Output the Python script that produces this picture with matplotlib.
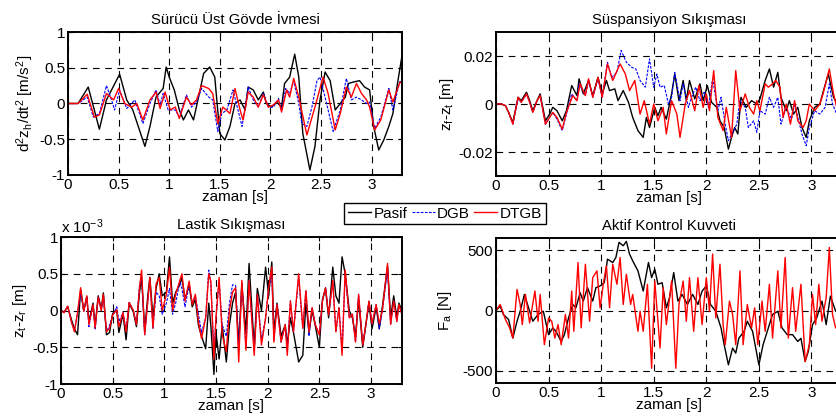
import numpy as np
import matplotlib
matplotlib.use('Agg')
import matplotlib.pyplot as plt
from matplotlib.lines import Line2D

plt.rcParams['font.family'] = ['Liberation Sans', 'DejaVu Sans']
plt.rcParams['font.size'] = 10
plt.rcParams['mathtext.fontset'] = 'custom'
plt.rcParams['mathtext.rm'] = 'Liberation Sans'
plt.rcParams['mathtext.it'] = 'Liberation Sans'
plt.rcParams['mathtext.bf'] = 'Liberation Sans'

series_names = ['Pasif', 'DGB', 'DTGB']
series_colors = ['black', 'blue', 'red']
x_ticks = [0, 0.5, 1, 1.5, 2, 2.5, 3]
x_ticklabels = ['0', '0.5', '1', '1.5', '2', '2.5', '3']

# ---- Sürücü Üst Gövde İvmesi (t [s], m/s^2)
acc_pasif = [(0,0),(0.10,0),(0.20,0.23),(0.31,-0.36),(0.38,0.05),(0.51,0.41),(0.58,0.05),(0.64,-0.09),(0.76,-0.60),(0.81,-0.32),
             (0.87,0.09),(0.94,0.21),(0.97,0.51),(1.00,0.37),(1.05,0.19),(1.10,-0.09),(1.14,-0.23),(1.19,-0.09),(1.24,-0.23),(1.29,0.09),
             (1.34,0.42),(1.40,0.51),(1.45,0.37),(1.50,-0.42),(1.55,-0.51),(1.60,-0.32),(1.65,0),(1.70,0.05),(1.75,-0.09),(1.78,0.23),
             (1.83,0.19),(1.88,0.05),(1.93,0.16),(1.96,0),(2.01,-0.05),(2.06,0.02),(2.11,-0.05),(2.14,0.28),(2.19,0.37),(2.24,0.69),
             (2.28,0.37),(2.32,-0.42),(2.39,-0.93),(2.44,-0.6),(2.49,0.05),(2.54,0.44),(2.59,0.32),(2.64,-0.09),(2.69,0),(2.74,0.09),
             (2.77,0.28),(2.82,0.3),(2.88,0.32),(2.93,0.23),(2.98,0.19),(3.02,-0.32),(3.07,-0.65),(3.12,-0.51),(3.17,-0.32),(3.21,-0.14),
             (3.26,0.32),(3.30,0.67)]
acc_dgb = [(0,0),(0.10,0),(0.19,0.09),(0.25,-0.19),(0.31,-0.14),(0.38,0.25),(0.43,0.05),(0.46,-0.09),(0.51,0.19),(0.58,-0.07),
           (0.66,0.05),(0.74,-0.28),(0.81,0),(0.87,0.19),(0.91,-0.02),(0.94,0.14),(0.99,-0.09),(1.06,-0.09),(1.10,-0.19),(1.17,0.12),
           (1.22,-0.05),(1.27,0.02),(1.32,0.21),(1.39,0.09),(1.43,0.05),(1.48,-0.39),(1.52,-0.14),(1.57,-0.09),(1.63,0.19),(1.72,-0.32),
           (1.78,0.23),(1.83,0.05),(1.88,-0.05),(1.93,0.14),(1.98,-0.05),(2.03,-0.05),(2.08,0.07),(2.11,-0.09),(2.15,0.21),(2.19,0.14),
           (2.23,0.32),(2.28,0),(2.31,-0.28),(2.36,-0.32),(2.41,-0.05),(2.46,0.32),(2.49,0.37),(2.54,0.09),(2.62,-0.39),(2.69,-0.09),
           (2.75,0.35),(2.80,0.05),(2.85,0.09),(2.90,0.05),(2.95,0),(2.98,0.02),(3.03,-0.35),(3.09,-0.19),(3.17,0.21),(3.21,-0.09),
           (3.28,0.32),(3.30,0.28)]
acc_dtgb = [(0,0),(0.10,0),(0.19,0.13),(0.26,-0.19),(0.31,-0.16),(0.38,0.14),(0.45,0.05),(0.50,0.21),(0.56,0),(0.63,-0.05),
            (0.68,0),(0.74,-0.23),(0.81,0.05),(0.87,0.16),(0.91,-0.07),(0.96,0.16),(1.01,-0.09),(1.06,-0.05),(1.10,-0.21),(1.17,0.09),
            (1.22,-0.02),(1.27,0.05),(1.32,0.25),(1.39,0.21),(1.43,0.14),(1.48,-0.28),(1.53,-0.05),(1.60,-0.14),(1.65,0.21),(1.70,-0.09),
            (1.73,-0.23),(1.78,0.16),(1.83,0.09),(1.88,-0.05),(1.93,0.12),(1.98,-0.05),(2.03,-0.02),(2.08,0.05),(2.11,-0.12),(2.16,0.19),
            (2.19,0.09),(2.23,0.35),(2.28,0.09),(2.36,-0.44),(2.44,-0.05),(2.52,0.37),(2.57,0.14),(2.64,-0.37),(2.69,-0.14),(2.75,0.23),
            (2.80,0.09),(2.85,0.28),(2.90,0.14),(2.95,0.05),(2.98,-0.05),(3.03,-0.37),(3.09,-0.23),(3.17,0.19),(3.21,0.02),(3.28,0.30),
            (3.30,0.28)]

# ---- Süspansiyon Sıkışması (t [s], mm)
susp_pasif = [(0,0),(0.05,0),(0.09,-0.7),(0.12,-3.5),(0.16,-7.7),(0.21,2.8),(0.24,1.4),(0.29,4.9),(0.32,1.4),(0.35,-2.8),
              (0.39,1.4),(0.42,4.2),(0.47,-7),(0.51,-4.2),(0.54,-1.4),(0.58,-2.8),(0.63,-7),(0.67,-2.8),(0.72,7.7),(0.77,3.5),
              (0.79,10.5),(0.83,4.2),(0.88,9.8),(0.92,3.5),(0.97,11.1),(1.01,4.2),(1.05,9.8),(1.08,5.6),(1.13,6.3),(1.16,1.4),
              (1.21,5.6),(1.26,0.7),(1.30,-5.6),(1.35,-11.1),(1.40,-13.9),(1.43,-5.6),(1.46,-9.8),(1.51,-1.4),(1.54,-4.9),(1.57,-1.4),
              (1.62,-6.3),(1.67,4.2),(1.70,12.5),(1.74,1.4),(1.78,9.8),(1.81,1.4),(1.84,9.8),(1.89,2.1),(1.94,8.4),(1.97,1.4),
              (2.01,7.7),(2.05,0.7),(2.10,-1.4),(2.13,-7),(2.17,-9.8),(2.21,-18.8),(2.24,-13.9),(2.27,-9.8),(2.30,-12.5),(2.33,2.8),
              (2.38,-1.4),(2.43,1.4),(2.48,0),(2.51,2.1),(2.56,9.8),(2.60,14.6),(2.64,7),(2.68,13.2),(2.71,2.8),(2.76,-2.8),
              (2.79,1.4),(2.83,-4.2),(2.87,-1.4),(2.91,-9.8),(2.95,-13.9),(2.98,-7),(3.03,-1.4),(3.08,0),(3.11,4.9),(3.16,12.5),
              (3.21,2.8),(3.25,0),(3.30,1.0)]
susp_dgb = [(0,0),(0.05,0),(0.09,-0.7),(0.12,-3.5),(0.16,-8.4),(0.21,2.1),(0.24,0.7),(0.29,4.2),(0.32,0.7),(0.35,-3.5),
            (0.39,1.4),(0.42,3.5),(0.47,-8.4),(0.51,-5.6),(0.54,-3.5),(0.58,-6.3),(0.63,-11.1),(0.67,-4.2),(0.72,4.2),(0.77,1.4),
            (0.79,8.4),(0.85,3.5),(0.88,9.8),(0.92,2.8),(0.97,10.5),(1.01,2.8),(1.06,17.4),(1.10,11.1),(1.15,13.2),(1.19,22.3),
            (1.24,17.4),(1.29,15.3),(1.33,14.6),(1.37,9.8),(1.42,7),(1.46,18.8),(1.50,7),(1.53,12.5),(1.56,7),(1.60,7.7),
            (1.64,0),(1.67,2.8),(1.70,13.2),(1.75,1.4),(1.78,8.4),(1.83,-1.4),(1.86,2.8),(1.90,7),(1.94,1.4),(1.98,4.9),
            (2.02,-1.4),(2.06,10.5),(2.11,-2.8),(2.14,2.8),(2.18,-8.4),(2.21,-15.3),(2.26,-11.1),(2.29,-8.4),(2.32,1.4),(2.37,-1.4),
            (2.40,-9.8),(2.45,-7),(2.48,-11.8),(2.51,-2.8),(2.56,-4.2),(2.60,2.8),(2.64,-1.4),(2.68,2.8),(2.71,-8.4),(2.76,-1.4),
            (2.81,-6.3),(2.84,0),(2.87,-5.6),(2.91,-12.5),(2.95,-17.4),(2.98,-9.8),(3.03,-2.8),(3.08,-4.2),(3.13,-1.4),(3.17,8.4),
            (3.20,0),(3.24,-4.2),(3.30,-1.4)]
susp_dtgb = [(0,0),(0.05,0),(0.09,-0.7),(0.12,-3.5),(0.16,-8.4),(0.21,2.8),(0.24,0.7),(0.29,4.2),(0.32,0.7),(0.35,-3.5),
             (0.39,1.4),(0.42,3.5),(0.47,-8.4),(0.51,-5.6),(0.54,-3.5),(0.58,-5.6),(0.63,-10.5),(0.67,-3.5),(0.73,3.5),(0.77,1.4),
             (0.80,8.4),(0.85,3.5),(0.88,10.5),(0.92,2.8),(0.97,11.1),(1.01,2.8),(1.06,16.7),(1.11,9.8),(1.18,16.7),(1.23,12.5),
             (1.27,5.6),(1.32,9.8),(1.37,-4.2),(1.41,1.4),(1.46,-8.4),(1.50,0),(1.54,-7),(1.59,-1.4),(1.62,-12.5),(1.67,1.4),
             (1.72,-4.2),(1.75,-13.9),(1.80,0),(1.84,5.6),(1.89,-2.8),(1.93,7.7),(1.97,-1.4),(2.00,4.2),(2.03,-2.8),(2.07,13.9),
             (2.11,-5.6),(2.16,-11.1),(2.19,-1.4),(2.24,-13.9),(2.28,13.9),(2.32,-2.8),(2.37,4.2),(2.41,-1.4),(2.45,-4.2),(2.48,1.4),
             (2.51,-2.8),(2.56,8.4),(2.59,7),(2.63,8.4),(2.66,9.8),(2.70,7),(2.73,-5.6),(2.76,0),(2.80,-8.4),(2.84,1.4),
             (2.87,-7),(2.92,-9.8),(2.95,-7),(2.98,0),(3.03,-2.8),(3.08,0),(3.11,4.2),(3.17,14.6),(3.21,4.2),(3.24,-1.4),
             (3.30,1.4)]

# ---- Lastik Sıkışması (t [s], x 1e-3 m)
tire_pasif = [(0,0),(0.03,-0.02),(0.065,0.05),(0.10,-0.12),(0.13,-0.25),(0.16,-0.33),(0.19,0.28),(0.22,0.0),(0.25,0.18),(0.27,-0.15),
              (0.31,0.10),(0.33,-0.22),(0.36,0.2),(0.39,0.02),(0.41,0.24),(0.44,-0.33),(0.47,-0.3),(0.50,-0.04),(0.54,0.0),(0.56,-0.30),
              (0.60,-0.05),(0.63,-0.40),(0.66,0.10),(0.70,-0.02),(0.73,-0.22),(0.76,0.25),(0.78,0.45),(0.81,-0.28),(0.84,0.2),(0.86,0.45),
              (0.89,-0.1),(0.92,0.3),(0.95,0.50),(0.98,0.2),(1.02,0.25),(1.05,0.73),(1.08,0.1),(1.11,0.25),(1.15,0.35),(1.17,0.45),
              (1.20,0.15),(1.24,0.35),(1.27,0.05),(1.30,0.15),(1.33,-0.2),(1.36,-0.35),(1.40,-0.52),(1.43,0.1),(1.45,-0.2),(1.48,-0.87),
              (1.50,-0.3),(1.53,-0.66),(1.56,-0.2),(1.60,-0.70),(1.63,-0.2),(1.66,0.1),(1.69,0.25),(1.72,-0.45),(1.75,0.35),(1.79,-0.3),
              (1.82,0.64),(1.87,-0.5),(1.90,0.3),(1.94,0.0),(1.98,0.59),(2.01,0.2),(2.04,0.66),(2.06,-0.3),(2.09,0.1),(2.13,-0.35),
              (2.17,-0.2),(2.19,-0.47),(2.22,-0.1),(2.25,-0.3),(2.30,-0.70),(2.34,-0.61),(2.37,0.1),(2.40,-0.3),(2.43,0.0),(2.46,-0.2),
              (2.50,-0.5),(2.53,0.15),(2.56,0.3),(2.59,-0.1),(2.63,0.59),(2.66,0.2),(2.69,0.1),(2.72,0.73),(2.75,0.5),(2.79,0.0),
              (2.82,-0.1),(2.85,-0.35),(2.88,0.15),(2.92,-0.50),(2.95,-0.2),(2.98,0.1),(3.01,-0.25),(3.05,0.05),(3.08,-0.25),(3.11,0.05),
              (3.16,0.6),(3.19,-0.1),(3.22,0.2),(3.25,-0.1),(3.27,0.1),(3.30,0.0)]
tire_dgb = [(0,0),(0.03,-0.03),(0.065,0.06),(0.10,-0.15),(0.13,-0.27),(0.16,-0.03),(0.19,0.25),(0.22,-0.01),(0.25,0.20),(0.27,-0.22),
            (0.31,0.08),(0.33,-0.26),(0.36,0.18),(0.39,0.0),(0.41,0.20),(0.44,-0.29),(0.47,-0.2),(0.50,-0.06),(0.54,0.05),(0.56,-0.15),
            (0.60,-0.03),(0.63,-0.27),(0.66,0.11),(0.70,0.0),(0.73,-0.19),(0.76,0.35),(0.78,0.45),(0.81,-0.33),(0.84,0.13),(0.86,0.40),
            (0.89,-0.24),(0.92,0.25),(0.95,0.2),(0.98,-0.05),(1.02,0.1),(1.05,0.3),(1.08,-0.05),(1.11,0.1),(1.15,0.4),(1.17,0.3),
            (1.20,0.05),(1.24,0.35),(1.27,0.1),(1.30,0.2),(1.33,-0.05),(1.36,-0.3),(1.40,-0.1),(1.43,0.55),(1.45,0.35),(1.48,-0.55),
            (1.50,-0.1),(1.53,0.4),(1.56,-0.2),(1.60,-0.35),(1.63,0.1),(1.66,0.35),(1.69,0.34),(1.72,-0.5),(1.75,0.38),(1.79,-0.5),
            (1.82,0.41),(1.87,-0.55),(1.90,0.22),(1.94,-0.4),(1.98,-0.10),(2.01,0.31),(2.04,0.5),(2.06,-0.4),(2.09,0.08),(2.13,-0.43),
            (2.17,-0.19),(2.19,-0.55),(2.22,0.13),(2.25,-0.29),(2.30,0.45),(2.34,-0.24),(2.37,0.27),(2.40,-0.35),(2.43,0.04),(2.46,-0.19),
            (2.50,-0.33),(2.53,0.13),(2.56,0.31),(2.59,-0.06),(2.63,0.38),(2.66,-0.29),(2.69,0.04),(2.72,-0.55),(2.75,0.5),(2.79,-0.10),
            (2.82,-0.05),(2.85,-0.43),(2.88,0.22),(2.92,-0.47),(2.95,-0.19),(2.98,0.13),(3.01,-0.18),(3.05,0.08),(3.08,-0.25),(3.11,0.0),
            (3.16,0.55),(3.19,-0.19),(3.22,0.13),(3.25,-0.15),(3.27,0.08),(3.30,-0.06)]
tire_dtgb = [(0,0),(0.03,-0.03),(0.065,0.06),(0.10,-0.15),(0.13,-0.29),(0.16,-0.03),(0.19,0.31),(0.22,-0.01),(0.25,0.20),(0.27,-0.19),
             (0.31,0.08),(0.33,-0.24),(0.36,0.18),(0.39,0.0),(0.41,0.22),(0.44,-0.29),(0.47,-0.24),(0.50,-0.06),(0.54,0.01),(0.56,-0.22),
             (0.60,-0.03),(0.63,-0.29),(0.66,0.11),(0.70,0.0),(0.73,-0.19),(0.76,0.31),(0.78,0.55),(0.81,-0.33),(0.84,0.13),(0.86,0.45),
             (0.89,-0.24),(0.92,0.36),(0.95,0.45),(0.98,0.0),(1.02,0.22),(1.05,0.59),(1.08,0.0),(1.11,0.22),(1.15,0.41),(1.17,0.50),
             (1.20,0.13),(1.24,0.40),(1.27,0.08),(1.30,0.22),(1.33,-0.15),(1.36,-0.38),(1.40,-0.10),(1.43,0.50),(1.45,0.40),(1.48,-0.66),
             (1.50,-0.10),(1.53,0.45),(1.56,-0.33),(1.60,-0.56),(1.63,0.0),(1.66,0.25),(1.69,0.31),(1.72,-0.70),(1.75,0.41),(1.79,-0.54),
             (1.82,0.41),(1.87,-0.61),(1.90,0.22),(1.94,-0.47),(1.98,-0.10),(2.01,0.31),(2.04,0.59),(2.06,-0.43),(2.09,0.08),(2.13,-0.43),
             (2.17,-0.19),(2.19,-0.61),(2.22,0.13),(2.25,-0.29),(2.30,0.50),(2.34,-0.24),(2.37,0.27),(2.40,-0.29),(2.43,0.04),(2.46,-0.19),
             (2.50,-0.33),(2.53,0.13),(2.56,0.31),(2.59,-0.06),(2.63,0.41),(2.66,-0.29),(2.69,0.04),(2.72,-0.61),(2.75,0.55),(2.79,-0.10),
             (2.82,-0.05),(2.85,-0.43),(2.88,0.22),(2.92,-0.47),(2.95,-0.19),(2.98,0.13),(3.01,-0.18),(3.05,0.08),(3.08,-0.18),(3.11,0.0),
             (3.16,0.64),(3.19,-0.19),(3.22,0.13),(3.25,-0.15),(3.27,0.08),(3.30,-0.06)]

# ---- Aktif Kontrol Kuvveti (t [s], N)
force_pasif = [(0,0),(0.04,36),(0.07,-33),(0.12,-75),(0.16,-228),(0.20,-89),(0.23,-6),(0.27,133),(0.32,-6),(0.35,-89),
               (0.40,-33),(0.45,-6),(0.50,-200),(0.54,-144),(0.57,-172),(0.62,-256),(0.65,-200),(0.69,-61),(0.73,50),(0.76,22),
               (0.80,147),(0.83,78),(0.87,189),(0.92,78),(0.95,189),(0.99,203),(1.03,231),(1.06,425),(1.11,397),(1.14,439),
               (1.17,564),(1.21,536),(1.24,572),(1.27,467),(1.30,411),(1.35,328),(1.40,161),(1.45,397),(1.48,272),(1.51,342),
               (1.54,217),(1.58,230),(1.62,22),(1.65,106),(1.69,314),(1.73,78),(1.77,133),(1.82,50),(1.87,133),(1.92,50),
               (1.96,161),(2.00,203),(2.04,50),(2.09,-6),(2.14,-144),(2.17,-283),(2.21,-450),(2.25,-311),(2.28,-353),(2.31,-228),
               (2.36,-172),(2.39,-89),(2.44,-172),(2.47,-311),(2.50,-450),(2.54,-283),(2.58,-172),(2.63,-33),(2.68,-6),(2.72,-144),
               (2.77,-200),(2.82,-200),(2.87,-256),(2.90,-230),(2.94,-422),(2.97,-339),(3.01,-117),(3.05,-61),(3.10,78),(3.14,-117),
               (3.18,119),(3.23,-6),(3.30,-30)]
force_dtgb = [(0,0),(0.04,50),(0.09,-75),(0.13,-144),(0.16,-228),(0.20,175),(0.23,50),(0.25,-117),(0.28,133),(0.32,-103),
              (0.37,161),(0.40,-89),(0.42,133),(0.46,-283),(0.50,-61),(0.53,-89),(0.56,-228),(0.59,-117),(0.62,-283),(0.66,-33),
              (0.69,-228),(0.72,161),(0.74,-172),(0.78,397),(0.81,-144),(0.85,383),(0.89,-89),(0.92,272),(0.96,328),(0.99,22),
              (1.02,217),(1.05,369),(1.08,22),(1.11,383),(1.15,217),(1.18,439),(1.21,50),(1.24,300),(1.28,50),(1.30,133),
              (1.35,-172),(1.37,-6),(1.40,-172),(1.44,217),(1.48,-478),(1.51,244),(1.56,-311),(1.59,189),(1.62,-117),(1.67,244),
              (1.71,-478),(1.74,50),(1.78,244),(1.81,-89),(1.84,272),(1.88,-172),(1.92,272),(1.96,-117),(2.00,272),(2.03,-6),
              (2.06,467),(2.09,-61),(2.13,383),(2.16,-117),(2.18,-283),(2.22,78),(2.25,-33),(2.28,-283),(2.32,328),(2.35,-283),
              (2.39,50),(2.43,-144),(2.46,22),(2.49,-283),(2.53,78),(2.56,-172),(2.60,217),(2.63,-228),(2.68,328),(2.71,-144),
              (2.75,439),(2.78,-228),(2.82,189),(2.85,-172),(2.90,217),(2.94,-422),(2.98,-283),(3.01,133),(3.04,-117),(3.07,217),
              (3.10,-89),(3.14,106),(3.17,522),(3.20,-33),(3.23,-144),(3.30,-60)]

W, H = 837, 419
fig = plt.figure(figsize=(W / 100, H / 100), dpi=100)

def px_axes(left, top, right, bottom):
    return fig.add_axes([left / W, 1 - bottom / H, (right - left) / W, (bottom - top) / H])

ax_tl = px_axes(68, 32, 402, 175)
ax_tr = px_axes(496, 32, 843, 176)
ax_bl = px_axes(61, 237, 402, 384)
ax_br = px_axes(496, 238, 843, 383)

FS = 11

def draw(ax, series, scale=1.0):
    for data, color, name in series:
        arr = np.array(data, dtype=float)
        if color == 'blue':
            ax.plot(arr[:, 0], arr[:, 1] * scale, color=color, lw=0.8, ls=(0, (2.5, 1.2)), label=name)
        else:
            ax.plot(arr[:, 0], arr[:, 1] * scale, color=color, lw=1.0, label=name)

def style(ax, title, ylabel, ylim, yticks, yticklabels, ylabelpad=3):
    ax.set_xlim(0, 3.3)
    ax.set_ylim(*ylim)
    ax.set_xticks(x_ticks)
    ax.set_xticklabels(x_ticklabels)
    ax.set_yticks(yticks)
    ax.set_yticklabels(yticklabels)
    ax.grid(True, color='black', lw=0.8, ls=(0, (6, 5)))
    ax.tick_params(direction='in', top=True, right=True, length=3, pad=2, labelsize=FS)
    for s in ax.spines.values():
        s.set_linewidth(1.4)
    ax.set_title(title, fontsize=10.7, pad=6)
    ax.set_xlabel('zaman [s]', fontsize=FS, labelpad=-1)
    ax.set_ylabel(ylabel, fontsize=FS, labelpad=ylabelpad)

draw(ax_tl, [(acc_pasif, 'black', 'Pasif'), (acc_dgb, 'blue', 'DGB'), (acc_dtgb, 'red', 'DTGB')])
style(ax_tl, 'Sürücü Üst Gövde İvmesi', r'd$^2$z$_h$/dt$^2$ [m/s$^2$]', (-1, 1),
      [-1, -0.5, 0, 0.5, 1], ['-1', '-0.5', '0', '0.5', '1'], ylabelpad=2)

draw(ax_tr, [(susp_pasif, 'black', 'Pasif'), (susp_dgb, 'blue', 'DGB'), (susp_dtgb, 'red', 'DTGB')], scale=1e-3)
style(ax_tr, 'Süspansiyon Sıkışması', r'z$_f$-z$_t$ [m]', (-0.03, 0.03),
      [-0.02, 0, 0.02], ['-0.02', '0', '0.02'], ylabelpad=2)

draw(ax_bl, [(tire_pasif, 'black', 'Pasif'), (tire_dgb, 'blue', 'DGB'), (tire_dtgb, 'red', 'DTGB')])
style(ax_bl, 'Lastik Sıkışması', r'z$_t$-z$_r$ [m]', (-1, 1),
      [-1, -0.5, 0, 0.5, 1], ['-1', '-0.5', '0', '0.5', '1'], ylabelpad=2)
ax_bl.text(0.0, 1.01, r'x 10$^{-3}$', transform=ax_bl.transAxes, ha='left', va='bottom', fontsize=FS)

draw(ax_br, [(force_pasif, 'black', 'Pasif'), (force_dtgb, 'red', 'DTGB')])
style(ax_br, 'Aktif Kontrol Kuvveti', r'F$_a$ [N]', (-600, 600),
      [-500, 0, 500], ['-500', '0', '500'], ylabelpad=6)

handles = [Line2D([], [], color='black', lw=1.0),
           Line2D([], [], color='blue', lw=0.8, ls=(0, (2.5, 1.2))),
           Line2D([], [], color='red', lw=1.0)]
leg = fig.legend(handles, series_names, loc='center', bbox_to_anchor=(445 / W, 1 - 213.5 / H),
                 ncol=3, frameon=True, fancybox=False, edgecolor='black', framealpha=1,
                 handlelength=1.5, handletextpad=0.15, columnspacing=0.3, borderpad=0.25,
                 borderaxespad=0, fontsize=FS)
leg.get_frame().set_linewidth(1.0)

fig.savefig('out.png', dpi=100)
